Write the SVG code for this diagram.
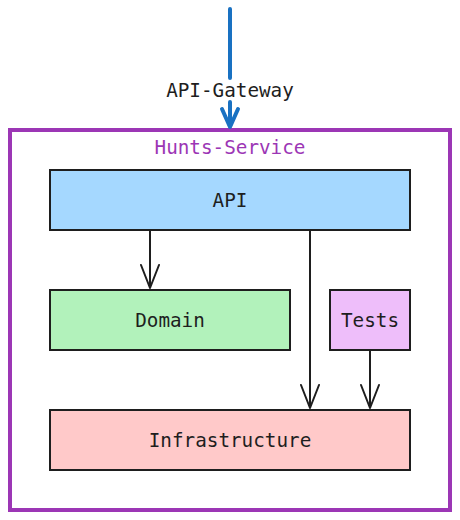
<svg xmlns="http://www.w3.org/2000/svg" width="460" height="520" viewBox="0 0 460 520">
<style>
.box{stroke:#1e1e1e;stroke-width:2}
.lbl{font-family:"DejaVu Sans Mono","Liberation Mono",monospace;font-size:19.3px;fill:#1e1e1e;text-anchor:middle;dominant-baseline:central}
.conn{stroke:#1e1e1e;stroke-width:2;fill:none;stroke-linecap:round;stroke-linejoin:round}
</style>
<rect width="460" height="520" fill="#ffffff"/>
<g id="hunts-service">
<rect x="10" y="130" width="440" height="380" fill="none" stroke="#9c36b5" stroke-width="4"/>
<text class="lbl" x="230" y="147" style="fill:#9c36b5">Hunts-Service</text>
</g>
<g id="api"><rect class="box" x="50" y="170" width="360" height="60" fill="#a5d8ff"/><text class="lbl" x="230" y="200">API</text></g>
<g id="domain"><rect class="box" x="50" y="290" width="240" height="60" fill="#b2f2bb"/><text class="lbl" x="170" y="320">Domain</text></g>
<g id="tests"><rect class="box" x="330" y="290" width="80" height="60" fill="#eebefa"/><text class="lbl" x="370" y="320">Tests</text></g>
<g id="infrastructure"><rect class="box" x="50" y="410" width="360" height="60" fill="#ffc9c9"/><text class="lbl" x="230" y="440">Infrastructure</text></g>
<g id="connectors">
<path class="conn" d="M150 231 V288 M141 265 L150 288 L159 265"/>
<path class="conn" d="M310 231 V408 M301 385 L310 408 L319 385"/>
<path class="conn" d="M370 351 V408 M361 385 L370 408 L379 385"/>
<g id="gateway">
<path d="M230 9 V78 M230 102 V126 M222 109 L230 127 L238 109" stroke="#1971c2" stroke-width="4" fill="none" stroke-linecap="round" stroke-linejoin="round"/>
<text class="lbl" x="230" y="90">API-Gateway</text>
</g>
</g>
</svg>
